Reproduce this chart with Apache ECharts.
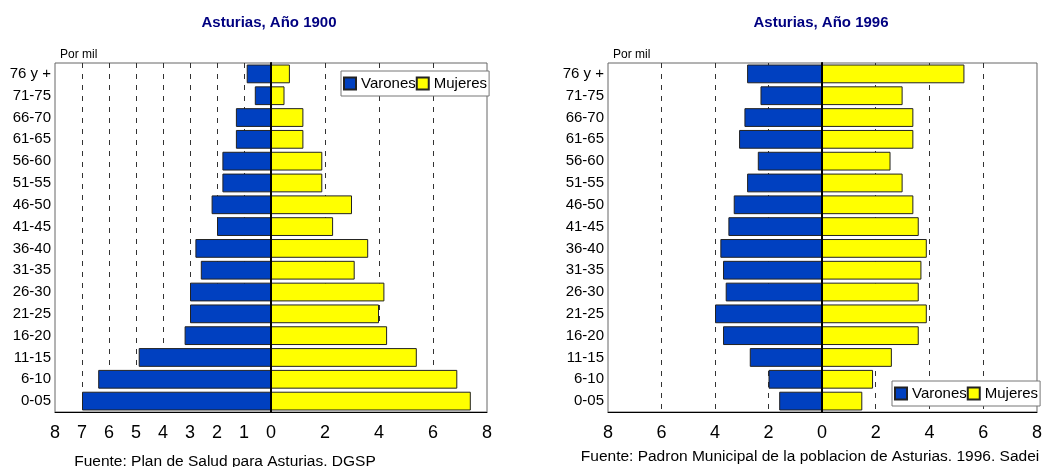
<!DOCTYPE html>
<html>
<head>
<meta charset="utf-8">
<script src="https://cdn.jsdelivr.net/npm/echarts@6/dist/echarts.min.js"></script>
<style>
  html, body { margin: 0; padding: 0; background: #fff; }
  #chart { width: 1045px; height: 467px; }
</style>
</head>
<body>
<div id="chart"></div>
<script>
// grupos de edad, de arriba abajo
var grupos = ['76 y +', '71-75', '66-70', '61-65', '56-60', '51-55', '46-50', '41-45',
              '36-40', '31-35', '26-30', '21-25', '16-20', '11-15', '6-10', '0-05'];

// Asturias 1900 (por mil)
var varones1900 = [0.9, 0.6, 1.3, 1.3, 1.8, 1.8, 2.2, 2.0, 2.8, 2.6, 3.0, 3.0, 3.2, 4.9, 6.4, 7.0];
var mujeres1900 = [0.7, 0.5, 1.2, 1.2, 1.9, 1.9, 3.0, 2.3, 3.6, 3.1, 4.2, 4.0, 4.3, 5.4, 6.9, 7.4];

// Asturias 1996 (por mil)
var varones1996 = [2.8, 2.3, 2.9, 3.1, 2.4, 2.8, 3.3, 3.5, 3.8, 3.7, 3.6, 4.0, 3.7, 2.7, 2.0, 1.6];
var mujeres1996 = [5.3, 3.0, 3.4, 3.4, 2.55, 3.0, 3.4, 3.6, 3.9, 3.7, 3.6, 3.9, 3.6, 2.6, 1.9, 1.5];

var AZUL = '#0040C0';
var AMARILLO = '#FFFF00';
var TOP = 63, ALTO = 349;
var FUENTE = 'Liberation Sans, Arial';

var chart = echarts.init(document.getElementById('chart'));

function eje(grid, intervalo, inverso, sinCero) {
    return {
        type: 'value', gridIndex: grid, min: 0, max: 8, interval: intervalo, inverse: inverso,
        axisLine: { show: true, lineStyle: { color: '#000', width: 1 } },
        axisTick: { show: false },
        axisLabel: {
            color: '#000', fontSize: 18, fontFamily: FUENTE, margin: 12,
            formatter: function (v) { return (sinCero && v === 0) ? '' : String(v); }
        },
        splitLine: { show: true, showMinLine: false, showMaxLine: false,
            lineStyle: { color: '#333', width: 1, type: [5, 6] } }
    };
}

function ejeCat(grid, conEtiquetas, grueso) {
    return {
        type: 'category', gridIndex: grid, data: grupos, inverse: true, position: 'left',
        z: grueso ? 5 : 0,
        axisLine: { show: true, lineStyle: { color: '#000', width: grueso ? 2 : 1 } },
        axisTick: { show: false },
        axisLabel: { show: conEtiquetas, color: '#000', fontSize: 15, fontFamily: FUENTE, margin: 4 },
        splitLine: { show: false }
    };
}

function barra(nombre, color, grid, datos) {
    return {
        name: nombre, type: 'bar', xAxisIndex: grid, yAxisIndex: grid,
        data: datos, barWidth: '86%',
        itemStyle: { color: color, borderColor: '#222', borderWidth: 1 }
    };
}

function leyenda(x, y) {
    return {
        left: x, top: y, orient: 'horizontal', icon: 'rect',
        itemWidth: 12, itemHeight: 12, itemGap: 0,
        padding: [5, 2, 5, 2],
        backgroundColor: '#fff', borderColor: '#777', borderWidth: 1,
        textStyle: { color: '#000', fontSize: 15, fontFamily: FUENTE },
        data: ['Varones', 'Mujeres']
    };
}

var textoBase = { fontFamily: FUENTE, color: '#000', fontWeight: 'normal' };
var titulo = { fontFamily: FUENTE, fontSize: 15, fontWeight: 'bold', color: '#000080' };

var option = {
    backgroundColor: '#fff',
    animation: false,
    title: [
        { text: 'Asturias, Año 1900', left: 264, top: 10, textAlign: 'center', textStyle: titulo },
        { text: 'Asturias, Año 1996', left: 816, top: 10, textAlign: 'center', textStyle: titulo },
        { text: 'Por mil', left: 55, top: 44,
          textStyle: Object.assign({}, textoBase, { fontSize: 12 }) },
        { text: 'Por mil', left: 608, top: 44,
          textStyle: Object.assign({}, textoBase, { fontSize: 12 }) },
        { text: 'Fuente: Plan de Salud para Asturias. DGSP', left: 220, top: 449, textAlign: 'center',
          textStyle: Object.assign({}, textoBase, { fontSize: 15.5 }) },
        { text: 'Fuente: Padron Municipal de la poblacion de Asturias. 1996. Sadei', left: 805, top: 444, textAlign: 'center',
          textStyle: Object.assign({}, textoBase, { fontSize: 15.5 }) }
    ],
    legend: [leyenda(341, 71), leyenda(892, 381)],
    grid: [
        { left: 55, top: TOP, width: 216, height: ALTO, show: true, borderColor: '#666', borderWidth: 1 },
        { left: 271, top: TOP, width: 216, height: ALTO, show: true, borderColor: '#666', borderWidth: 1 },
        { left: 608, top: TOP, width: 214, height: ALTO, show: true, borderColor: '#666', borderWidth: 1 },
        { left: 822, top: TOP, width: 217, height: ALTO, show: true, borderColor: '#666', borderWidth: 1 }
    ],
    xAxis: [
        eje(0, 1, true, false),
        eje(1, 2, false, true),
        eje(2, 2, true, false),
        eje(3, 2, false, true)
    ],
    yAxis: [
        ejeCat(0, true, false),
        ejeCat(1, false, true),
        ejeCat(2, true, false),
        ejeCat(3, false, true)
    ],
    series: [
        barra('Varones', AZUL, 0, varones1900),
        barra('Mujeres', AMARILLO, 1, mujeres1900),
        barra('Varones', AZUL, 2, varones1996),
        barra('Mujeres', AMARILLO, 3, mujeres1996)
    ]
};

chart.setOption(option);
</script>
</body>
</html>
